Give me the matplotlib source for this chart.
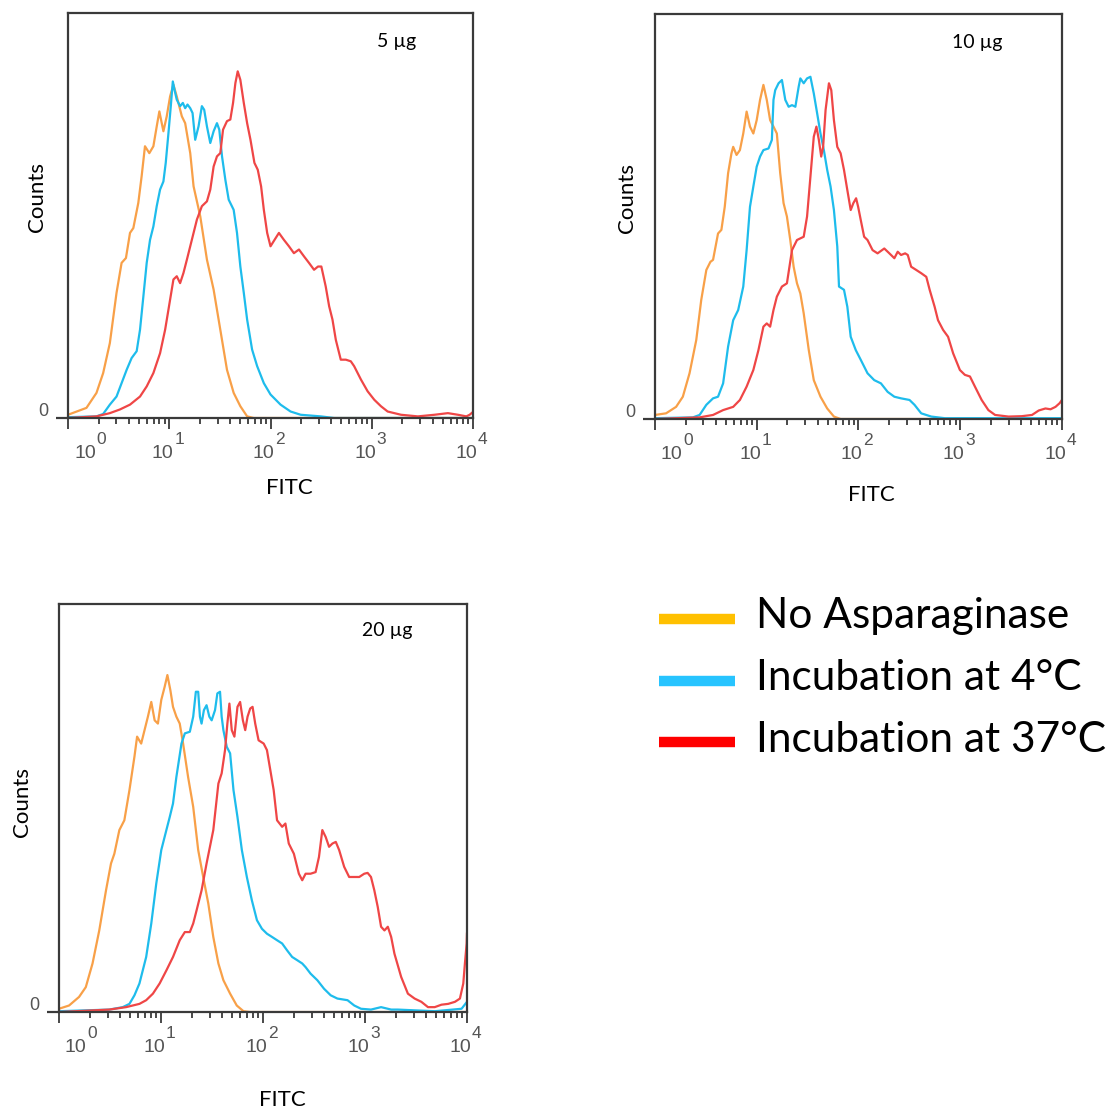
import matplotlib.pyplot as plt
from matplotlib.lines import Line2D

plt.rcParams['font.family'] = ['Lato', 'DejaVu Sans']

labels = ['No Asparaginase', 'Incubation at 4°C', 'Incubation at 37°C']
colors = ['#f8a048', '#1ebcec', '#ef4646']
legend_colors = ['#ffc000', '#27c4ff', '#ff0000']
doses = ['5 µg', '10 µg', '20 µg']
decades = [0, 1, 2, 3, 4]

# x = log10(FITC), y = counts (% of full scale)
# ---- 5 µg
p1_none_x = [0, 0.182, 0.281, 0.347, 0.413, 0.479, 0.529, 0.572, 0.612, 0.645, 0.694, 0.727, 0.760, 0.803,
             0.843, 0.876, 0.902, 0.942, 0.975, 1.008, 1.041, 1.074, 1.124, 1.157, 1.207, 1.240, 1.306,
             1.372, 1.438, 1.504, 1.570, 1.636, 1.702, 1.769, 1.835, 4.0]
p1_none_y = [0.8, 2.5, 6.2, 11.1, 18.5, 30.9, 38.3, 39.5, 45.7, 46.9, 53.1, 59.7, 67.1, 65.4,
             67.1, 72.0, 75.7, 70.8, 74.5, 79.4, 82.3, 79.4, 74.5, 72.8, 65.4, 57.2, 49.8,
             39.1, 31.7, 21.8, 11.9, 6.2, 2.9, 0.4, 0, 0]
p1_cold_x = [0, 0.281, 0.347, 0.413, 0.479, 0.529, 0.579, 0.628, 0.678, 0.711, 0.744, 0.777, 0.810, 0.843,
             0.876, 0.909, 0.942, 0.965, 0.992, 1.015, 1.035, 1.051, 1.074, 1.107, 1.134, 1.157, 1.180,
             1.207, 1.230, 1.256, 1.289, 1.322, 1.345, 1.372, 1.405, 1.438, 1.471, 1.494, 1.521, 1.554,
             1.587, 1.636, 1.669, 1.702, 1.736, 1.769, 1.818, 1.868, 1.934, 2.0, 2.099, 2.198, 2.298,
             2.496, 2.628, 4.0]
p1_cold_y = [0.2, 0.4, 1.0, 3.3, 5.3, 8.6, 11.9, 14.8, 16.5, 21.8, 30.0, 38.3, 44.0, 47.3,
             52.3, 56.4, 58.4, 63.0, 70.4, 77.0, 83.1, 81.1, 78.6, 77.0, 77.8, 76.5, 77.4,
             76.5, 75.3, 68.7, 72.0, 77.0, 76.1, 72.0, 67.9, 70.8, 72.8, 71.2, 64.6, 58.8,
             53.9, 51.4, 45.7, 37.4, 30.9, 24.3, 16.9, 12.8, 8.6, 5.8, 3.3, 1.6, 0.8,
             0.4, 0, 0]
p1_warm_x = [0, 0.281, 0.413, 0.512, 0.612, 0.711, 0.777, 0.843, 0.909, 0.959, 1.008, 1.041, 1.074, 1.107,
             1.140, 1.174, 1.223, 1.273, 1.322, 1.372, 1.405, 1.438, 1.471, 1.504, 1.531, 1.570, 1.603,
             1.630, 1.653, 1.676, 1.702, 1.736, 1.769, 1.802, 1.841, 1.874, 1.907, 1.934, 1.967, 2.0,
             2.040, 2.083, 2.132, 2.182, 2.231, 2.281, 2.331, 2.380, 2.430, 2.469, 2.502, 2.545, 2.579,
             2.612, 2.645, 2.694, 2.744, 2.793, 2.826, 2.893, 2.959, 3.025, 3.091, 3.157, 3.289, 3.455,
             3.620, 3.752, 3.851, 3.934, 3.967, 4.0]
p1_warm_y = [0, 0.4, 1.2, 2.1, 3.3, 5.3, 7.8, 11.1, 16.0, 21.8, 29.2, 34.2, 35.0, 33.3,
             35.8, 39.1, 44.0, 49.0, 52.3, 53.5, 56.4, 62.1, 64.6, 65.4, 71.2, 73.3, 73.7,
             77.8, 82.7, 85.6, 83.5, 77.8, 72.8, 68.7, 63.0, 61.3, 57.2, 51.4, 45.7, 42.4,
             44.0, 45.7, 44.0, 42.4, 40.7, 41.6, 39.9, 38.3, 36.6, 37.4, 37.4, 32.5, 27.6,
             24.3, 19.3, 14.4, 14.4, 14.0, 12.8, 9.5, 6.6, 4.5, 2.9, 1.6, 0.8, 0.4,
             0.8, 1.2, 0.8, 0.4, 0.8, 1.5]

# ---- 10 µg
p2_none_x = [0, 0.109, 0.208, 0.274, 0.340, 0.406, 0.455, 0.505, 0.545, 0.571, 0.620, 0.653, 0.686, 0.719,
             0.752, 0.769, 0.802, 0.835, 0.868, 0.901, 0.934, 0.967, 1.0, 1.033, 1.066, 1.099, 1.132,
             1.165, 1.198, 1.231, 1.264, 1.297, 1.330, 1.363, 1.396, 1.429, 1.462, 1.512, 1.561, 1.627,
             1.693, 1.759, 1.825, 4.0]
p2_none_y = [1.0, 1.4, 3.0, 5.5, 11.3, 19.5, 29.4, 36.8, 38.8, 39.3, 45.8, 46.7, 52.4, 60.7,
             65.6, 67.2, 65.2, 66.4, 70.5, 75.9, 72.2, 70.5, 73.8, 78.8, 82.5, 78.8, 73.8,
             72.2, 70.5, 60.7, 53.3, 50.0, 44.2, 37.6, 33.5, 31.0, 26.1, 17.0, 9.6, 5.5,
             2.6, 0.6, 0, 0]
p2_cold_x = [0, 0.373, 0.439, 0.505, 0.571, 0.620, 0.670, 0.719, 0.769, 0.818, 0.868, 0.901, 0.934, 0.967,
             1.0, 1.033, 1.066, 1.116, 1.149, 1.165, 1.182, 1.215, 1.248, 1.281, 1.314, 1.347, 1.380,
             1.413, 1.429, 1.462, 1.495, 1.528, 1.561, 1.594, 1.627, 1.660, 1.693, 1.726, 1.759, 1.792,
             1.809, 1.858, 1.891, 1.924, 1.974, 2.023, 2.089, 2.155, 2.221, 2.287, 2.353, 2.419, 2.502,
             2.551, 2.617, 2.716, 2.848, 4.0]
p2_cold_y = [0.2, 0.4, 1.0, 3.5, 5.1, 5.5, 8.8, 17.9, 24.4, 26.9, 32.7, 41.7, 52.4, 57.4,
             62.3, 64.8, 66.4, 66.8, 68.9, 78.8, 81.2, 82.9, 83.7, 78.8, 77.1, 77.5, 77.1,
             82.1, 84.1, 82.9, 84.1, 84.5, 80.4, 75.5, 70.5, 66.4, 61.5, 57.4, 51.6, 42.6,
             32.7, 31.9, 27.7, 20.3, 17.0, 14.6, 11.3, 9.6, 8.8, 6.7, 5.5, 5.1, 4.7,
             3.5, 1.4, 0.6, 0.2, 0.2]
p2_warm_x = [0, 0.439, 0.571, 0.670, 0.769, 0.835, 0.901, 0.967, 1.017, 1.066, 1.099, 1.132, 1.165, 1.198,
             1.248, 1.297, 1.347, 1.396, 1.462, 1.495, 1.528, 1.561, 1.587, 1.611, 1.634, 1.653, 1.677,
             1.710, 1.733, 1.759, 1.792, 1.825, 1.858, 1.891, 1.924, 1.950, 1.977, 1.997, 2.023, 2.056,
             2.089, 2.139, 2.188, 2.254, 2.304, 2.353, 2.386, 2.419, 2.459, 2.485, 2.518, 2.568, 2.617,
             2.667, 2.700, 2.749, 2.782, 2.832, 2.881, 2.931, 2.997, 3.046, 3.096, 3.145, 3.211, 3.277,
             3.343, 3.475, 3.607, 3.706, 3.772, 3.838, 3.888, 3.937, 3.977, 4.0]
p2_warm_y = [0, 0.4, 1.0, 2.2, 3.0, 4.7, 8.0, 12.1, 17.0, 22.8, 23.6, 22.8, 26.9, 30.2,
             32.7, 33.5, 41.7, 44.2, 45.0, 50.0, 59.8, 69.7, 72.2, 68.9, 64.8, 67.2, 76.3,
             82.9, 81.2, 73.8, 67.2, 65.6, 61.5, 56.5, 51.6, 53.3, 54.5, 52.4, 49.1, 45.0,
             44.2, 41.7, 40.9, 42.1, 40.9, 39.7, 41.3, 40.5, 40.9, 40.5, 37.6, 36.8, 36.0,
             35.1, 31.9, 27.7, 24.4, 22.0, 20.3, 16.2, 12.1, 10.9, 10.5, 8.0, 4.7, 2.2,
             1.0, 0.6, 0.7, 1.0, 2.1, 2.6, 2.4, 3.0, 3.9, 4.7]

# ---- 20 µg
p3_none_x = [0, 0.099, 0.197, 0.263, 0.329, 0.395, 0.461, 0.510, 0.543, 0.592, 0.641, 0.691, 0.740, 0.766,
             0.806, 0.839, 0.872, 0.905, 0.938, 0.970, 1.003, 1.036, 1.063, 1.092, 1.118, 1.151, 1.184,
             1.217, 1.266, 1.316, 1.365, 1.414, 1.464, 1.513, 1.563, 1.612, 1.678, 1.743, 1.809, 1.875, 4.0]
p3_none_y = [0.8, 1.6, 3.7, 6.1, 11.9, 20.0, 29.8, 36.4, 38.8, 44.6, 47.0, 54.4, 62.6, 67.5,
             65.8, 69.1, 72.4, 76.0, 71.5, 70.7, 76.5, 79.7, 82.6, 78.9, 74.8, 72.4, 70.7,
             65.8, 57.6, 50.3, 39.7, 33.1, 26.6, 18.4, 11.9, 7.8, 4.5, 1.6, 0.2, 0, 0]
p3_cold_x = [0, 0.493, 0.625, 0.691, 0.740, 0.789, 0.855, 0.905, 0.954, 1.003, 1.053, 1.086, 1.118, 1.151,
             1.201, 1.234, 1.283, 1.316, 1.342, 1.365, 1.382, 1.398, 1.421, 1.447, 1.474, 1.497, 1.530,
             1.553, 1.579, 1.595, 1.612, 1.645, 1.678, 1.711, 1.750, 1.793, 1.842, 1.891, 1.941, 1.990,
             2.039, 2.089, 2.138, 2.188, 2.237, 2.286, 2.336, 2.385, 2.418, 2.467, 2.533, 2.599, 2.664,
             2.730, 2.829, 2.895, 2.961, 3.059, 3.158, 3.257, 3.322, 3.684, 3.947, 4.0]
p3_cold_y = [0.2, 0.6, 1.2, 2.0, 4.1, 7.0, 13.5, 21.7, 31.5, 39.7, 44.6, 47.8, 51.1, 57.6,
             65.8, 68.3, 68.7, 72.4, 78.5, 78.5, 72.4, 70.7, 74.0, 75.2, 72.4, 71.5, 74.0,
             78.1, 78.5, 72.4, 69.1, 65.0, 63.4, 54.4, 47.8, 39.7, 33.1, 27.4, 22.5, 20.4,
             19.2, 18.4, 17.6, 16.8, 15.1, 13.5, 12.7, 11.9, 11.0, 9.4, 7.8, 5.7, 4.1,
             3.3, 2.9, 1.6, 0.8, 0.6, 1.2, 0.6, 0.6, 0.2, 0.8, 2.5]
p3_warm_x = [0, 0.493, 0.658, 0.789, 0.855, 0.921, 0.987, 1.053, 1.118, 1.184, 1.234, 1.283, 1.316, 1.349,
             1.398, 1.447, 1.513, 1.563, 1.595, 1.628, 1.651, 1.671, 1.694, 1.720, 1.750, 1.776, 1.803,
             1.826, 1.849, 1.875, 1.898, 1.924, 1.957, 2.007, 2.039, 2.072, 2.105, 2.138, 2.188, 2.220,
             2.253, 2.303, 2.352, 2.385, 2.418, 2.467, 2.516, 2.549, 2.582, 2.615, 2.648, 2.681, 2.714,
             2.747, 2.796, 2.845, 2.895, 2.944, 2.993, 3.026, 3.059, 3.092, 3.125, 3.158, 3.191, 3.224,
             3.257, 3.289, 3.355, 3.421, 3.487, 3.553, 3.618, 3.684, 3.750, 3.816, 3.882, 3.931, 3.964,
             3.980, 3.997, 4.0]
p3_warm_y = [0, 0.6, 1.2, 2.0, 2.9, 4.5, 7.0, 10.2, 13.5, 17.6, 19.6, 19.6, 21.7, 24.9,
             29.8, 36.4, 44.6, 56.0, 58.5, 64.2, 70.7, 75.6, 69.1, 67.5, 74.8, 76.0, 71.5,
             69.1, 72.4, 74.4, 74.8, 70.7, 66.6, 65.8, 64.2, 59.3, 54.4, 47.0, 45.4, 46.2,
             41.3, 38.8, 33.9, 32.3, 33.9, 33.9, 34.3, 38.0, 44.6, 42.9, 40.5, 41.3, 41.7,
             39.7, 35.6, 33.1, 33.1, 33.1, 33.9, 34.1, 33.1, 29.8, 25.8, 20.9, 20.0, 20.9,
             18.4, 14.3, 8.6, 4.5, 3.3, 2.5, 1.2, 1.2, 1.8, 2.0, 2.5, 3.3, 7.0,
             11.9, 16.8, 19.2]

panels = [
    [(p1_none_x, p1_none_y), (p1_cold_x, p1_cold_y), (p1_warm_x, p1_warm_y)],
    [(p2_none_x, p2_none_y), (p2_cold_x, p2_cold_y), (p2_warm_x, p2_warm_y)],
    [(p3_none_x, p3_none_y), (p3_cold_x, p3_cold_y), (p3_warm_x, p3_warm_y)],
]

fig = plt.figure(figsize=(11.19, 11.12), dpi=100)
rects = [[0.0608, 0.6241, 0.3619, 0.3642],
         [0.5853, 0.6232, 0.3637, 0.3642],
         [0.0527, 0.0899, 0.3646, 0.3669]]
dose_pos = [(0.812, 0.93), (0.791, 0.93), (0.804, 0.934)]
counts_off = [-31, -28, -37]     # px left of axes
fitc_pos = [(0.546, -70), (0.533, -76), (0.547, -88)]  # axes x, px below
tick_font = ['Liberation Sans', 'DejaVu Sans']
spine_col = '#3a3a3a'

for i, ax_rect in enumerate(rects):
    ax = fig.add_axes(ax_rect)
    for (xs, ys), c in zip(panels[i], colors):
        ax.plot([10 ** v for v in xs], ys, color=c, lw=1.6)
    ax.set_xscale('log')
    ax.set_xlim(1, 1e4)
    ax.set_ylim(0, 100)
    for s in ax.spines.values():
        s.set_color(spine_col)
        s.set_linewidth(1.6)
    ax.set_yticks([0])
    ax.set_yticklabels([])
    ax.tick_params(axis='y', length=8.5, width=1.6, color=spine_col, direction='out')
    ax.tick_params(axis='x', which='major', length=8, width=1.3, color=spine_col, direction='out')
    ax.tick_params(axis='x', which='minor', length=4.5, width=1.3, color=spine_col, direction='out')
    ax.set_xticks([10 ** d for d in decades])
    ax.set_xticklabels([])

    # tick labels 10^n
    for d in decades:
        dx = 3.0 + (17 if d == 0 else 0)
        ax.annotate('10', xy=(10 ** d, 0), xycoords=('data', 'axes fraction'),
                    xytext=(dx, -25.5), textcoords='offset points', ha='right', va='center',
                    fontsize=14, color='#555555', family=tick_font, annotation_clip=False)
        ax.annotate(str(d), xy=(10 ** d, 0), xycoords=('data', 'axes fraction'),
                    xytext=(dx + 0.6, -15.5), textcoords='offset points', ha='left', va='center',
                    fontsize=12.5, color='#555555', family=tick_font, annotation_clip=False)
    ax.annotate('0', xy=(0, 0), xycoords='axes fraction', xytext=(-17.5, 5),
                textcoords='offset points', ha='center', va='center',
                fontsize=13, color='#555555', family=tick_font)

    ax.text(dose_pos[i][0], dose_pos[i][1], doses[i], transform=ax.transAxes,
            ha='center', va='center', fontsize=14)
    ax.annotate('Counts', xy=(0, 0.546 if i < 2 else 0.515), xycoords='axes fraction',
                xytext=(counts_off[i] * 0.72, 0), textcoords='offset points',
                rotation=90, ha='center', va='center', fontsize=16)
    ax.annotate('FITC', xy=(fitc_pos[i][0], 0), xycoords='axes fraction',
                xytext=(0, fitc_pos[i][1] * 0.72), textcoords='offset points',
                ha='center', va='center', fontsize=16)

# legend drawn by hand
leg_y = [1 - 619 / 1112, 1 - 681 / 1112, 1 - 742 / 1112]
base_y = [1 - 628 / 1112, 1 - 690 / 1112, 1 - 751.7 / 1112]
for lab, c, ly, by in zip(labels, legend_colors, leg_y, base_y):
    fig.add_artist(Line2D([659 / 1119, 735 / 1119], [ly, ly], color=c, lw=7.5,
                          solid_capstyle='butt', transform=fig.transFigure))
    fig.text(756 / 1119, by, lab, fontsize=30.5, ha='left', va='baseline')

fig.savefig('out.png', dpi=100)
